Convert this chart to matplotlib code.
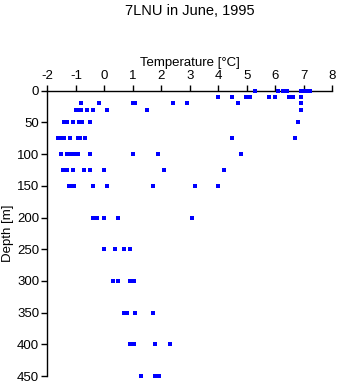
import numpy as np
import matplotlib
matplotlib.use("Agg")
import matplotlib.pyplot as plt

# temperature readings (deg C) at each sampled depth (m)
t_0 = [5.29, 6.1, 6.27, 6.33, 6.39, 6.9, 6.97, 7.05, 7.13, 7.2]
t_10 = [4.0, 4.48, 4.95, 5.02, 5.1, 5.78, 5.99, 6.46, 6.53, 6.6, 6.88]
t_20 = [-0.81, -0.2, 1.0, 1.08, 2.39, 2.88, 4.69, 6.88]
t_30 = [-1.0, -0.94, -0.81, -0.6, -0.39, 0.1, 1.49, 6.88]
t_50 = [-1.42, -1.36, -1.3, -1.09, -0.88, -0.8, -0.5, 6.78]
t_75 = [-1.62, -1.56, -1.41, -1.2, -0.92, -0.86, -0.67, 4.48, 6.69]
t_100 = [-1.52, -1.33, -1.25, -1.17, -1.09, -1.0, -0.94, -0.5, 0.99, 1.89, 4.8]
t_125 = [-1.45, -1.4, -1.3, -1.09, -0.71, -0.51, 0.0, 2.09, 4.19]
t_150 = [-1.24, -1.17, -1.08, -0.39, 0.1, 1.69, 3.19, 3.99]
t_200 = [-0.42, -0.36, -0.26, 0.0, 0.48, 3.08]
t_250 = [0.0, 0.38, 0.69, 0.9]
t_300 = [0.29, 0.48, 0.89, 0.95, 1.03]
t_350 = [0.68, 0.78, 1.08, 1.69]
t_400 = [0.88, 0.97, 1.02, 1.78, 2.3]
t_450 = [1.29, 1.78, 1.85, 1.92]

depths = [0, 10, 20, 30, 50, 75, 100, 125, 150, 200, 250, 300, 350, 400, 450]
temps = [t_0, t_10, t_20, t_30, t_50, t_75, t_100, t_125, t_150,
         t_200, t_250, t_300, t_350, t_400, t_450]

xticks = [-2, -1, 0, 1, 2, 3, 4, 5, 6, 7, 8]
yticks = [0, 50, 100, 150, 200, 250, 300, 350, 400, 450]

plt.rcParams['font.family'] = ['Liberation Sans', 'DejaVu Sans']
plt.rcParams['axes.unicode_minus'] = False

fig = plt.figure(figsize=(3.38, 3.84), dpi=100)
ax = fig.add_axes([0.1405, 0.0208, 0.843, 0.743])

x = np.concatenate([np.array(t, dtype=float) for t in temps])
y = np.concatenate([np.full(len(t), d, dtype=float) for t, d in zip(temps, depths)])
ax.plot(x, y, linestyle='none', marker='s', markersize=2.3, color='#0000ff',
        markeredgewidth=0, antialiased=False, clip_on=False, zorder=3)

ax.set_xlim(-2, 8)
ax.set_ylim(450, 0)
ax.xaxis.tick_top()
ax.xaxis.set_label_position('top')
ax.set_xticks(xticks)
ax.set_yticks(yticks)
ax.spines['right'].set_visible(False)
ax.spines['bottom'].set_visible(False)
ax.spines['top'].set_linewidth(1.0)
ax.spines['left'].set_linewidth(1.0)
ax.tick_params(direction='out', length=4.5, width=1.0, labelsize=9.5, pad=1.5,
               colors='black')
ax.set_xlabel("Temperature [\u00b0C]", fontsize=9.5, labelpad=3)
ax.set_ylabel("Depth [m]", fontsize=9.5, labelpad=2)

fig.text(0.562, 0.972, "7LNU in June, 1995", ha='center', va='center', fontsize=10.5)

fig.savefig("out.png", dpi=100)
